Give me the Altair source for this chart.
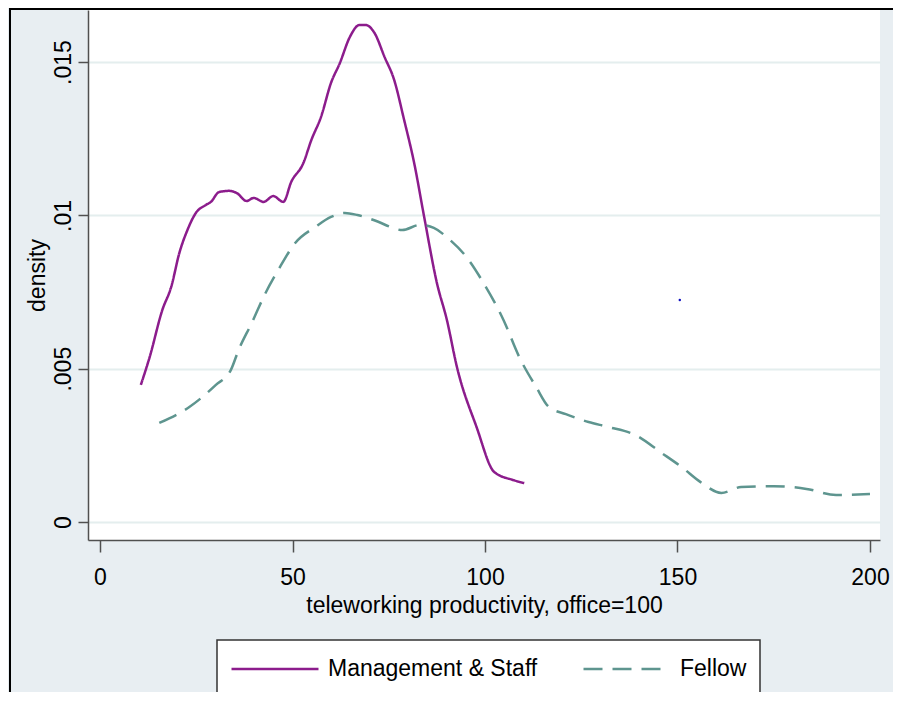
import altair as alt
import pandas as pd

# ---- data ----
series_names = ["Management & Staff", "Fellow"]

mgmt_x = [10.6, 12.9, 16.2, 18.5, 20.6, 22.7, 24.9, 27.5, 28.8, 30.9, 33.5, 35.5, 38.1, 39.9,
          42.5, 45.0, 47.6, 49.7, 52.8, 54.9, 57.4, 60.0, 62.3, 64.9, 67.4, 69.0, 71.3, 73.9,
          76.4, 79.0, 81.6, 84.2, 87.5, 90.1, 92.7, 97.8, 102.4, 107.3, 110.2]
mgmt_y = [0.00447, 0.00538, 0.00692, 0.00767, 0.00877, 0.00952, 0.01008, 0.01034, 0.01044,
          0.01076, 0.01080, 0.01073, 0.01047, 0.01057, 0.01044, 0.01063, 0.01044, 0.01110,
          0.01170, 0.01246, 0.01321, 0.01432, 0.01497, 0.01582, 0.01621, 0.01621, 0.01595,
          0.01517, 0.01442, 0.01311, 0.01171, 0.00995, 0.00780, 0.00659, 0.00506, 0.00310,
          0.00163, 0.00137, 0.00127]

fellow_x = [15.4, 23.2, 30.1, 34.0, 36.0, 39.4, 43.0, 46.3, 50.7, 55.9, 60.0, 63.6, 66.9, 72.1,
            75.5, 78.5, 83.1, 86.7, 90.9, 95.2, 99.6, 104.8, 108.9, 113.3, 116.6, 121.0, 126.9,
            132.0, 139.0, 145.9, 151.1, 156.0, 161.4, 166.5, 175.0, 183.5, 191.2, 200.0]
fellow_y = [0.00323, 0.00375, 0.00447, 0.00496, 0.00561, 0.00649, 0.00747, 0.00822, 0.00910,
            0.00962, 0.00995, 0.01008, 0.01001, 0.00980, 0.00962, 0.00952, 0.00969, 0.00959,
            0.00920, 0.00864, 0.00780, 0.00659, 0.00538, 0.00440, 0.00375, 0.00352, 0.00326,
            0.00310, 0.00284, 0.00225, 0.00179, 0.00130, 0.00095, 0.00114, 0.00117, 0.00108,
            0.00088, 0.00091]

dot_x = [150.6]
dot_y = [0.00724]

x_ticks = [0, 50, 100, 150, 200]
y_ticks = [0, 0.005, 0.01, 0.015]

x_title = "teleworking productivity, office=100"
y_title = "density"

# ---- styling ----
FONT = "Liberation Sans, Arial, Helvetica, sans-serif"
FS = 23
MAGENTA = "#8c1c8c"
TEAL = "#5e958f"
BG = "#e8eef2"
GRID = "#e4eeee"
AXIS = "#505050"

W, H = 792, 530
X_DOM = [-3.12, 202.6]
Y_DOM = [-0.000587, 0.016699]

df = pd.concat([
    pd.DataFrame({"x": mgmt_x, "y": mgmt_y, "group": series_names[0], "order": range(len(mgmt_x))}),
    pd.DataFrame({"x": fellow_x, "y": fellow_y, "group": series_names[1], "order": range(len(fellow_x))}),
])
dots = pd.DataFrame({"x": dot_x, "y": dot_y})

xscale = alt.Scale(domain=X_DOM, nice=False, zero=False)
yscale = alt.Scale(domain=Y_DOM, nice=False, zero=False)

legend = alt.Legend(
    title=None, orient="none", legendX=129, legendY=630, direction="horizontal",
    fillColor="white", strokeColor="#333333", padding=13, cornerRadius=0,
    labelFont=FONT, labelFontSize=FS, labelColor="black", labelLimit=500,
    symbolType="M-3,0H3", symbolSize=841, symbolOffset=29, labelOffset=37,
    columnPadding=40, symbolStrokeWidth=2.5,
)

xaxis = alt.Axis(values=x_ticks, title=x_title, grid=False, tickSize=12, tickColor=AXIS,
                 tickWidth=1.5, domainColor=AXIS, domainWidth=1.5, labelFont=FONT,
                 labelFontSize=FS, labelColor="black", labelPadding=14, titleFont=FONT,
                 titleFontSize=FS, titleFontWeight="normal", titleColor="black",
                 titlePadding=5, labelFlush=False)
yaxis = alt.Axis(values=y_ticks, title=y_title, grid=True, gridColor=GRID, gridWidth=2,
                 tickSize=10, tickColor=AXIS, tickWidth=1.5, domainColor=AXIS, domainWidth=1.5,
                 labelFont=FONT, labelFontSize=FS, labelColor="black", labelAngle=270,
                 labelAlign="center", labelBaseline="bottom", labelPadding=3,
                 labelExpr="replace(format(datum.value, '.3~f'), '0.', '.')",
                 titleFont=FONT, titleFontSize=FS, titleFontWeight="normal", titleColor="black",
                 titlePadding=3)

lines = alt.Chart(df).mark_line(strokeWidth=2.5, interpolate="monotone").encode(
    x=alt.X("x:Q", scale=xscale, axis=xaxis),
    y=alt.Y("y:Q", scale=yscale, axis=yaxis),
    color=alt.Color("group:N", scale=alt.Scale(domain=series_names, range=[MAGENTA, TEAL]),
                    legend=legend),
    strokeDash=alt.StrokeDash("group:N", scale=alt.Scale(domain=series_names,
                                                           range=[[1, 0], [19, 10]]),
                              legend=legend),
    order="order:Q",
)

dot = alt.Chart(dots).mark_point(filled=True, size=6, color="#1010c0", opacity=1).encode(
    x=alt.X("x:Q", scale=xscale), y=alt.Y("y:Q", scale=yscale)
)

border_top = alt.Chart(dots).mark_rule(color="black", strokeWidth=2).encode(
    x=alt.value(-79), x2=alt.value(W + 13), y=alt.value(-1)
)
border_left = alt.Chart(dots).mark_rule(color="black", strokeWidth=2).encode(
    x=alt.value(-78), y=alt.value(-2), y2=alt.value(H + 160)
)

chart = alt.layer(lines, dot, border_top, border_left).properties(
    width=W, height=H, background=BG,
    padding={"left": 80, "top": 2, "right": 13, "bottom": 152},
    autosize=alt.AutoSizeParams(type="none"),
).configure_view(fill="white", stroke=None).configure_legend(strokeWidth=1.5)

chart.save("out.html", embed_options={"renderer": "svg", "actions": False})
